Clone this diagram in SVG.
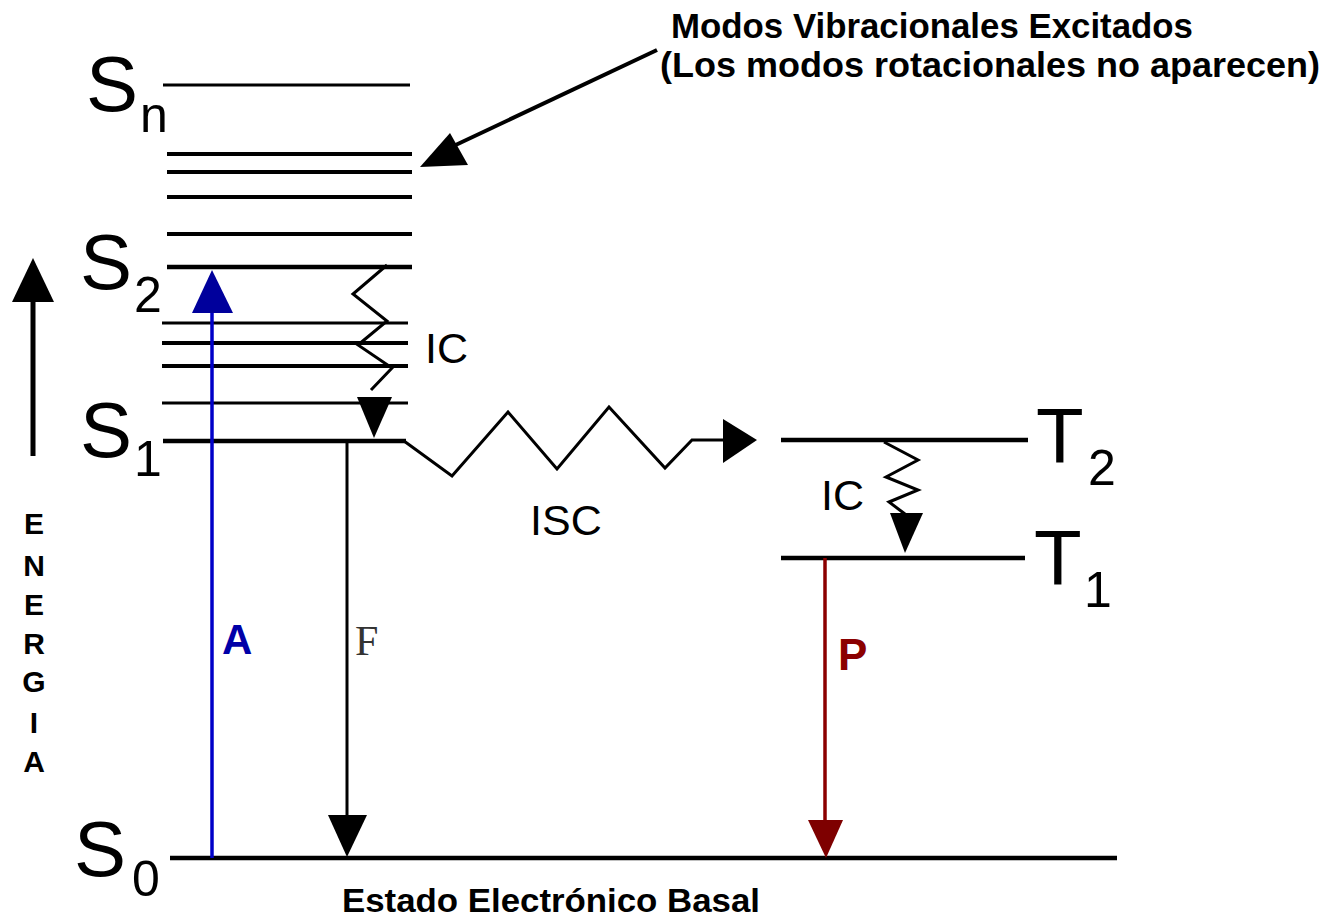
<svg xmlns="http://www.w3.org/2000/svg" width="1325" height="919" viewBox="0 0 1325 919">
<style>
.lvl{stroke:#000;stroke-width:4.5;fill:none}
.vib{stroke:#000;stroke-width:4;fill:none}
.thin{stroke:#000;stroke-width:3;fill:none}
.big{font-family:"Liberation Sans",Arial,sans-serif;font-size:78px;fill:#000}
.sub{font-family:"Liberation Sans",Arial,sans-serif;font-size:50px;fill:#000}
.lab{font-family:"Liberation Sans",Arial,sans-serif;font-size:43px;fill:#000}
.bold{font-family:"Liberation Sans",Arial,sans-serif;font-weight:bold;fill:#000}
.wig{stroke:#000;stroke-width:3;fill:none;stroke-linejoin:miter}
</style>
<rect width="1325" height="919" fill="#fff"/>

<g id="Sn">
  <line class="thin" x1="163" y1="85" x2="410" y2="85"/>
  <text class="big" x="86" y="111">S</text>
  <text class="sub" x="140" y="132">n</text>
</g>
<g id="vib-upper">
  <line class="vib" x1="167" y1="154" x2="412" y2="154"/>
  <line class="vib" x1="167" y1="172" x2="412" y2="172"/>
  <line class="vib" x1="167" y1="197" x2="412" y2="197"/>
  <line class="vib" x1="167" y1="234" x2="412" y2="234"/>
</g>
<g id="S2">
  <line class="lvl" x1="167" y1="267" x2="412" y2="267"/>
  <text class="big" x="80" y="289">S</text>
  <text class="sub" x="134" y="312">2</text>
</g>
<g id="vib-lower">
  <line class="thin" x1="162" y1="323" x2="408" y2="323"/>
  <line class="vib" x1="162" y1="343" x2="408" y2="343"/>
  <line class="vib" x1="162" y1="366" x2="408" y2="366"/>
  <line class="thin" x1="162" y1="403" x2="408" y2="403"/>
</g>
<g id="S1">
  <line class="lvl" x1="163" y1="441" x2="406" y2="441"/>
  <text class="big" x="80" y="457">S</text>
  <text class="sub" x="134" y="476">1</text>
</g>
<g id="S0">
  <line class="lvl" x1="170" y1="858" x2="1117" y2="858"/>
  <text class="big" x="74" y="876">S</text>
  <text class="sub" x="132" y="896">0</text>
  <text class="bold" x="342" y="912" font-size="33" textLength="418" lengthAdjust="spacingAndGlyphs">Estado Electrónico Basal</text>
</g>
<g id="T2">
  <line class="lvl" x1="781" y1="440" x2="1028" y2="440"/>
  <text class="big" x="1036" y="463">T</text>
  <text class="sub" x="1088" y="485">2</text>
</g>
<g id="T1">
  <line class="lvl" x1="781" y1="558" x2="1025" y2="558"/>
  <text class="big" x="1034" y="585">T</text>
  <text class="sub" x="1084" y="607">1</text>
</g>
<g id="energia">
  <g class="bold" font-size="30" text-anchor="middle">
    <text x="34" y="534">E</text>
    <text x="34" y="576">N</text>
    <text x="34" y="615">E</text>
    <text x="34" y="654">R</text>
    <text x="34" y="692">G</text>
    <text x="34" y="733">I</text>
    <text x="34" y="772">A</text>
  </g>
</g>
<g id="nota">
  <text class="bold" x="671" y="38" font-size="35" textLength="522" lengthAdjust="spacingAndGlyphs">Modos Vibracionales Excitados</text>
  <text class="bold" x="660" y="77" font-size="35" textLength="660" lengthAdjust="spacingAndGlyphs">(Los modos rotacionales no aparecen)</text>
</g>

<g id="connectors">
  <!-- energy axis -->
  <line x1="33" y1="456" x2="33" y2="298" stroke="#000" stroke-width="5"/>
  <polygon points="33,258 12,302 54,302" fill="#000"/>
  <!-- pointer -->
  <line x1="657" y1="50" x2="445" y2="150" stroke="#000" stroke-width="4"/>
  <polygon points="420,167 450,133 468,165" fill="#000"/>
  <!-- absorption A -->
  <line x1="212" y1="858" x2="212" y2="305" stroke="#0000C8" stroke-width="3.5"/>
  <polygon points="212,270 192,313 233,313" fill="#00009C"/>
  <text class="bold" x="222" y="654" font-size="42" style="fill:#0000A8">A</text>
  <!-- IC S2->S1 -->
  <polyline class="wig" points="387,265 353,294 387,321 358,345 392,368 371,390"/>
  <polygon points="357,397 392,397 374,438" fill="#000"/>
  <text class="lab" x="425" y="363">IC</text>
  <!-- fluorescence F -->
  <line x1="347" y1="441" x2="347" y2="820" stroke="#000" stroke-width="3"/>
  <polygon points="328,815 367,815 347,857" fill="#000"/>
  <text x="355" y="655" font-family="Liberation Serif, serif" font-size="42" fill="#333">F</text>
  <!-- ISC -->
  <polyline class="wig" points="404,441 452,476 508,412 557,469 609,407 665,468 692,440 725,440"/>
  <polygon points="723,419 757,440 723,463" fill="#000"/>
  <text class="lab" x="530" y="535">ISC</text>
  <!-- IC T2->T1 -->
  <polyline class="wig" points="884,442 918,460 886,477 918,490 889,502 905,514"/>
  <polygon points="890,513 923,513 905,553" fill="#000"/>
  <text class="lab" x="821" y="510">IC</text>
  <!-- phosphorescence P -->
  <line x1="825" y1="558" x2="825" y2="824" stroke="#8B0000" stroke-width="3.5"/>
  <polygon points="808,820 843,820 826,858" fill="#7E0000"/>
  <text class="bold" x="838" y="670" font-size="44" style="fill:#8B0000">P</text>
</g>
</svg>
